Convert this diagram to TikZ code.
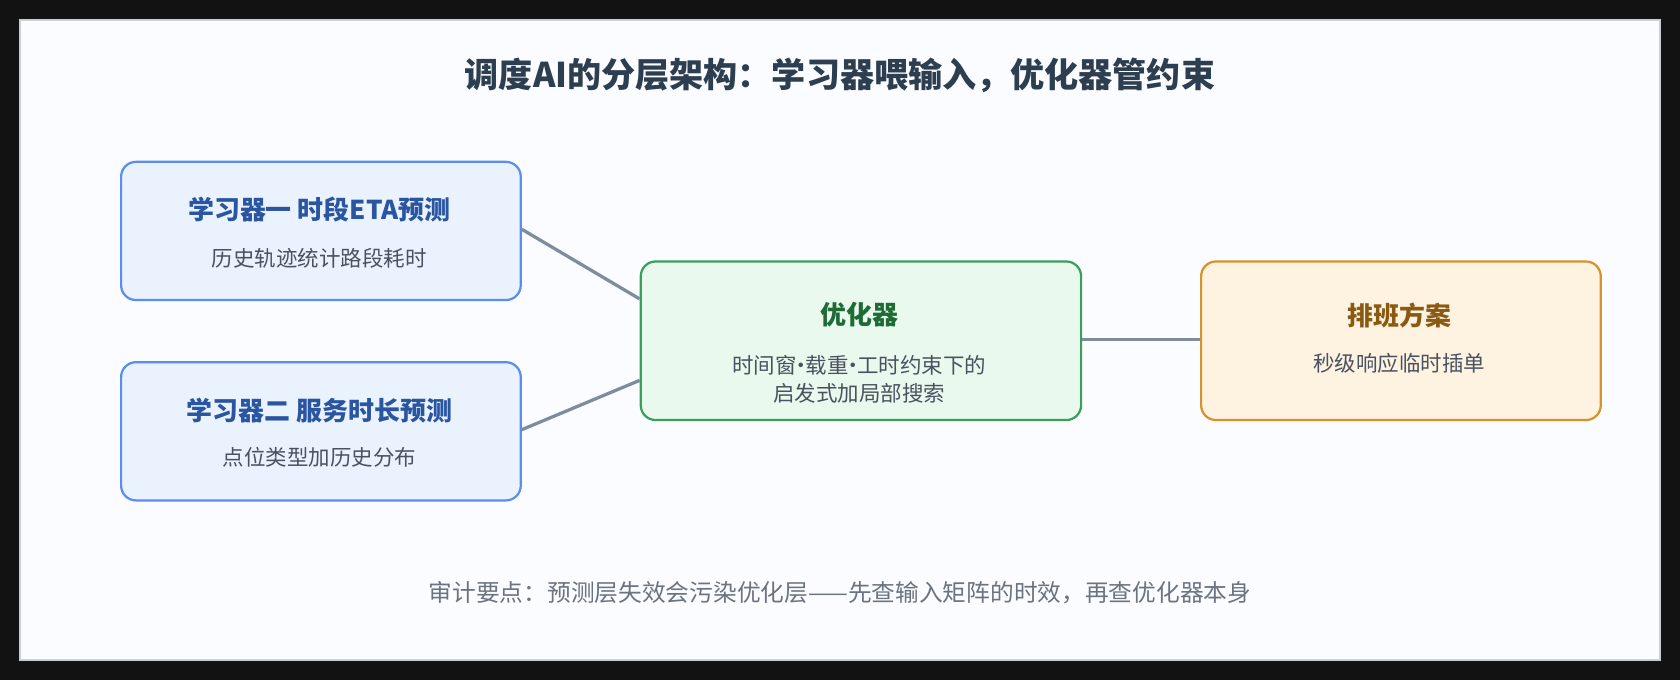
\documentclass[tikz,border=0pt]{standalone}
\usepackage{fontspec}
\setmainfont{Noto Sans CJK SC}
\usepackage{tikz}
\usetikzlibrary{calc}
\definecolor{frameline}{HTML}{C8CDD6}
\definecolor{paper}{HTML}{FBFCFF}
\definecolor{heading}{HTML}{2C3E50}
\definecolor{learnfill}{HTML}{EAF2FE}
\definecolor{learnline}{HTML}{5B8DEF}
\definecolor{learntext}{HTML}{2A55A0}
\definecolor{optfill}{HTML}{EAF9EE}
\definecolor{optline}{HTML}{3A9E5E}
\definecolor{opttext}{HTML}{1F6B35}
\definecolor{outfill}{HTML}{FEF3E0}
\definecolor{outline}{HTML}{D9922B}
\definecolor{outtext}{HTML}{8B5A12}
\definecolor{link}{HTML}{7F8C9D}
\definecolor{body}{HTML}{4A5260}
\definecolor{notetext}{HTML}{6B7380}
\begin{document}
\begin{tikzpicture}[x=0.0254cm,y=-0.0254cm,
    box/.style={draw, line width=1.5pt, rounded corners=10pt, anchor=north west, inner sep=0pt},
    wire/.style={draw=link, line width=2.2pt}]
        \fill[black!93] (0,0) rectangle (1568,635);
        \useasboundingbox (0,0) rectangle (1568,635);
        \draw[fill=paper, draw=frameline, line width=1.2pt] (19,19) rectangle (1549,616);

        \node[font=\bfseries\fontsize{23}{27}\selectfont, text=heading] (title) at (784,70) {调度AI的分层架构：学习器喂输入，优化器管约束};

        % Boxes
        \node[box, draw=learnline, fill=learnfill, minimum width=373*0.0254cm, minimum height=129*0.0254cm] (learnA) at (112,150) {};
        \node[box, draw=learnline, fill=learnfill, minimum width=373*0.0254cm, minimum height=129*0.0254cm] (learnB) at (112,337) {};
        \node[box, draw=optline, fill=optfill, minimum width=411*0.0254cm, minimum height=148*0.0254cm] (opt) at (597,243) {};
        \node[box, draw=outline, fill=outfill, minimum width=373*0.0254cm, minimum height=148*0.0254cm] (plan) at (1120,243) {};

        \node[font=\bfseries\fontsize{17.5}{20}\selectfont, text=learntext] at (298,196) {学习器一 时段ETA预测};
        \node[font=\fontsize{14.5}{17}\selectfont, text=body] at (298,241) {历史轨迹统计路段耗时};
        \node[font=\bfseries\fontsize{17.5}{20}\selectfont, text=learntext] at (298,383) {学习器二 服务时长预测};
        \node[font=\fontsize{14.5}{17}\selectfont, text=body] at (298,427) {点位类型加历史分布};
        \node[font=\bfseries\fontsize{17.5}{20}\selectfont, text=opttext] at (802,294) {优化器};
        \node[font=\fontsize{14.5}{17}\selectfont, text=body, align=center] at (802,354) {时间窗{\kern-0.3em}·{\kern-0.3em}载重{\kern-0.3em}·{\kern-0.3em}工时约束下的\\[2pt]启发式加局部搜索};
        \node[font=\bfseries\fontsize{17.5}{20}\selectfont, text=outtext] at (1306,294) {排班方案};
        \node[font=\fontsize{14.5}{17}\selectfont, text=body] at (1306,339) {秒级响应临时插单};

        % Links
        \draw[wire] (learnA.north east) ++(0,64) -- ($(opt.north west)+(0,36)$);
        \draw[wire] (learnB.north east) ++(0,64) -- ($(opt.north west)+(0,112)$);
        \draw[wire] ($(opt.north east)+(0,74)$) -- ($(plan.north west)+(0,74)$);

        \node[font=\fontsize{16}{19}\selectfont, text=notetext] (note) at (784,553) {审计要点：预测层失效会污染优化层——先查输入矩阵的时效，再查优化器本身};
\end{tikzpicture}
\end{document}
